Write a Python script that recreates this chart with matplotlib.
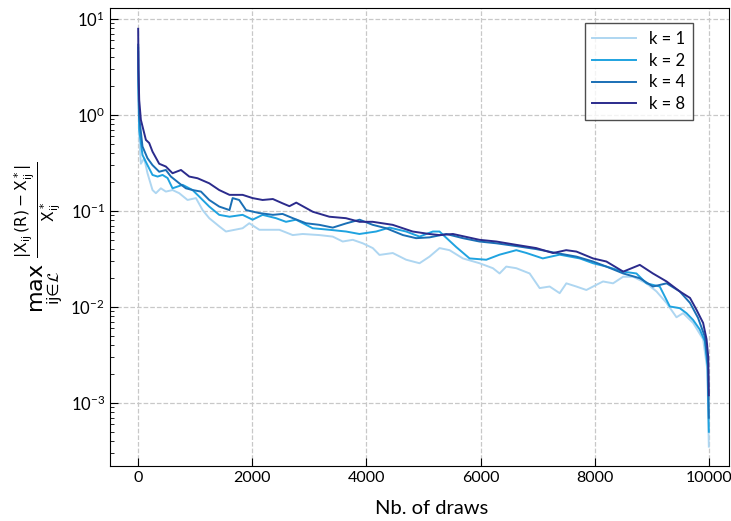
import matplotlib
matplotlib.use("Agg")
import matplotlib.pyplot as plt
from matplotlib.ticker import LogLocator, NullFormatter

# values (x = nb. of draws, y = relative error)
draws_k1 = [0, 5, 18, 47, 105, 163, 251, 310, 397, 485, 602, 719, 865, 1012, 1129, 1245, 1421, 1538, 1830, 1947,
            2123, 2474, 2708, 2883, 3175, 3409, 3584, 3760, 3935, 4111, 4228, 4462, 4696, 4930, 5105, 5281, 5456,
            5690, 5982, 6216, 6333, 6450, 6626, 6860, 7035, 7211, 7386, 7503, 7678, 7854, 7971, 8146, 8322, 8497,
            8673, 8907, 9082, 9258, 9433, 9550, 9725, 9900, 9975, 10000]
err_k1 = [4.5, 1.5, 0.59, 0.31, 0.354, 0.247, 0.165, 0.153, 0.172, 0.159, 0.165, 0.153, 0.13, 0.136, 0.102, 0.084,
          0.069, 0.061, 0.066, 0.0744, 0.0636, 0.0636, 0.056, 0.0575, 0.056, 0.054, 0.048, 0.05, 0.046, 0.041,
          0.0348, 0.0364, 0.031, 0.0285, 0.0334, 0.041, 0.039, 0.032, 0.0285, 0.0253, 0.0223, 0.0263, 0.0253,
          0.0223, 0.0157, 0.0163, 0.0139, 0.0176, 0.0163, 0.015, 0.0163, 0.0184, 0.0176, 0.0206, 0.0206, 0.0176,
          0.0145, 0.011, 0.0078, 0.0086, 0.0068, 0.0046, 0.0022, 0.00035]

draws_k2 = [0, 5, 18, 75, 163, 251, 340, 427, 515, 602, 778, 953, 1070, 1245, 1420, 1600, 1830, 2005, 2180, 2415,
            2590, 2766, 3058, 3350, 3643, 3877, 4170, 4404, 4696, 4930, 5164, 5280, 5574, 5807, 6100, 6333, 6626,
            6800, 7090, 7386, 7737, 7971, 8205, 8497, 8731, 8907, 9140, 9316, 9491, 9608, 9725, 9842, 9930, 9977,
            10000]
err_k2 = [5.0, 1.8, 0.70, 0.383, 0.30, 0.237, 0.228, 0.237, 0.22, 0.172, 0.187, 0.165, 0.141, 0.111, 0.091, 0.087,
          0.091, 0.081, 0.091, 0.084, 0.077, 0.081, 0.066, 0.0636, 0.061, 0.0575, 0.061, 0.067, 0.061, 0.054, 0.061,
          0.061, 0.042, 0.032, 0.031, 0.035, 0.039, 0.0365, 0.032, 0.035, 0.032, 0.0285, 0.0263, 0.0233, 0.0223,
          0.0176, 0.0163, 0.0101, 0.0097, 0.0086, 0.0073, 0.0058, 0.0044, 0.0024, 0.0005]

draws_k4 = [0, 5, 18, 75, 163, 251, 368, 485, 573, 720, 836, 953, 1100, 1245, 1420, 1600, 1655, 1770, 1890, 2120,
            2360, 2530, 2710, 2940, 3175, 3410, 3640, 3880, 4110, 4345, 4640, 4870, 5105, 5400, 5690, 5980, 6275,
            6625, 6975, 7330, 7680, 7970, 8205, 8500, 8790, 9020, 9260, 9490, 9670, 9810, 9930, 9985, 10000]
err_k4 = [5.4, 2.2, 0.96, 0.47, 0.354, 0.30, 0.256, 0.267, 0.228, 0.194, 0.172, 0.165, 0.159, 0.13, 0.111, 0.102,
          0.136, 0.13, 0.102, 0.095, 0.091, 0.093, 0.084, 0.0744, 0.0716, 0.067, 0.074, 0.081, 0.0716, 0.066, 0.056,
          0.052, 0.053, 0.0575, 0.052, 0.048, 0.046, 0.043, 0.040, 0.0364, 0.0334, 0.0297, 0.0263, 0.0223, 0.0199,
          0.0163, 0.0176, 0.0145, 0.011, 0.0077, 0.0049, 0.0025, 0.0007]

draws_k8 = [0, 5, 18, 47, 135, 193, 251, 368, 485, 602, 750, 895, 1040, 1245, 1420, 1600, 1830, 2005, 2180, 2360,
            2530, 2650, 2770, 3060, 3350, 3640, 3880, 4110, 4460, 4810, 5100, 5280, 5515, 5980, 6275, 6625, 6975,
            7270, 7500, 7680, 7970, 8205, 8500, 8790, 9020, 9260, 9490, 9670, 9785, 9900, 9960, 9990, 10000]
err_k8 = [7.9, 3.0, 1.43, 0.89, 0.55, 0.51, 0.415, 0.31, 0.29, 0.247, 0.267, 0.228, 0.219, 0.194, 0.165, 0.147,
          0.147, 0.136, 0.13, 0.133, 0.12, 0.112, 0.122, 0.098, 0.087, 0.084, 0.077, 0.077, 0.0716, 0.061, 0.0575,
          0.056, 0.0575, 0.05, 0.048, 0.0443, 0.041, 0.0364, 0.039, 0.0377, 0.032, 0.0297, 0.0233, 0.0274, 0.0223,
          0.0184, 0.0145, 0.0124, 0.0093, 0.0068, 0.0046, 0.003, 0.0012]

labels = ['k = 1', 'k = 2', 'k = 4', 'k = 8']
colors = ['#aed6f1', '#1fa3e0', '#1a6fb5', '#2b2b8c']

plt.rcParams['font.family'] = ['Lato', 'DejaVu Sans']

fig = plt.figure(figsize=(7.31, 5.21), dpi=100)
ax = fig.add_axes([0.150, 0.1056, 0.847, 0.879])

for xs, ys, lab, c in zip([draws_k1, draws_k2, draws_k4, draws_k8],
                          [err_k1, err_k2, err_k4, err_k8], labels, colors):
    ax.plot(xs, ys, color=c, lw=1.4, label=lab)

ax.set_yscale('log')
ax.set_xlim(-500, 10350)
ax.set_ylim(2.2e-4, 13)
ax.set_xticks([0, 2000, 4000, 6000, 8000, 10000])
ax.yaxis.set_major_locator(LogLocator(base=10, numticks=10))
ax.yaxis.set_minor_locator(LogLocator(base=10, subs=range(2, 10), numticks=10))
ax.yaxis.set_minor_formatter(NullFormatter())
ax.tick_params(which='both', direction='in', top=False, right=False)
ax.tick_params(axis='x', labelsize=11.5)
ax.tick_params(axis='y', labelsize=12)
ax.tick_params(which='major', length=6)
ax.tick_params(which='minor', length=3)
ax.grid(True, which='major', ls='--', color='#c8c8c8', lw=0.9)

ax.set_xlabel('Nb. of draws', fontsize=14.5)
ax.xaxis.set_label_coords(0.52, -0.075)
ax.set_ylabel(r'$\max_{\mathrm{ij}\in\mathcal{L}}\ \frac{|\mathrm{X}_{\mathrm{ij}}(\mathrm{R}) - '
              r'\mathrm{X}^*_{\mathrm{ij}}|}{\mathrm{X}^*_{\mathrm{ij}}}$', fontsize=16)

ax.legend(loc='upper right', bbox_to_anchor=(0.955, 0.985), fancybox=False, edgecolor='#222222',
          fontsize=12, handlelength=2.6, borderpad=0.45, labelspacing=0.35)

fig.savefig('out.png', dpi=100)
